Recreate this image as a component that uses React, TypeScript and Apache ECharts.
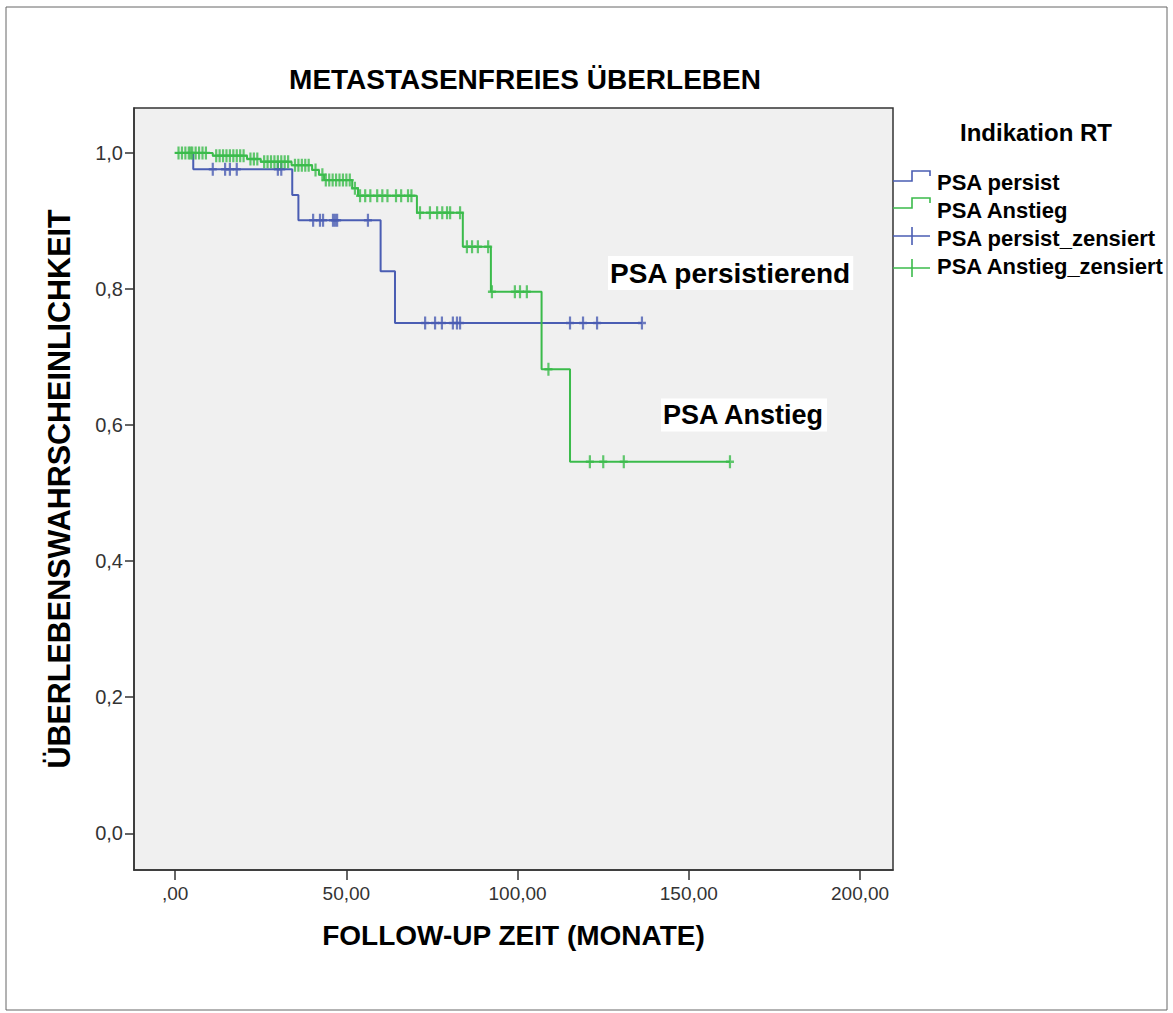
import React, { useEffect, useRef } from "react";
import * as echarts from "echarts";

// ---- Data (Kaplan-Meier, months / survival) ----
const xTickValues = [0, 50, 100, 150, 200];
const yTickValues = [0, 0.2, 0.4, 0.6, 0.8, 1.0];

// PSA persist (blue)
const blueEventTimes = [5.3, 34.2, 36.0, 60.0, 64.2];
const blueEventSurv = [0.976, 0.938, 0.901, 0.826, 0.75];
const blueEndTime = 136.3;
const blueCensorTimes = [
  11, 14.6, 16, 18, 30, 31, 40.3, 42.3, 43.2, 46.1, 46.7, 47.3, 56.3, 73, 75.9,
  77.9, 81.1, 82.3, 83.2, 115.3, 119.1, 123.2, 136.3,
];

// PSA Anstieg (green)
const greenEventTimes = [11, 21, 25, 34, 40, 42, 43.5, 51.7, 53.4, 70.6, 84, 92.2, 107, 115.3];
const greenEventSurv = [0.996, 0.991, 0.987, 0.982, 0.975, 0.968, 0.96, 0.948, 0.937, 0.912, 0.862, 0.796, 0.682, 0.546];
const greenEndTime = 162;
const greenCensorTimes = [
  1, 2, 3, 4, 4.5, 5, 6, 7, 8, 9, 12, 13, 14, 15, 16, 17, 18, 19, 20, 22, 23, 24,
  26, 27, 28, 29, 30, 31, 32, 33, 35, 36, 37, 38, 39, 41, 43, 44, 45, 46, 47, 48,
  49, 50, 51, 52.5, 54, 55.5, 57, 59, 60.5, 62, 64.5, 66, 68, 69, 71.5, 74.4,
  76.5, 78, 79.4, 80.3, 83.2, 85.2, 86.7, 88.4, 91.4, 92.5, 99.2, 100.7, 102.7,
  109, 121.1, 125, 131, 162,
];

const BLUE = "#4a5db3";
const GREEN = "#3bbb4b";
const FONT = "Liberation Sans, Arial, sans-serif";

function stepLine(times: number[], surv: number[], end: number) {
  const pts: number[][] = [[0, 1]];
  times.forEach((t, i) => pts.push([t, surv[i]]));
  pts.push([end, surv[surv.length - 1]]);
  return pts;
}

function survAt(times: number[], surv: number[], t: number) {
  let s = 1;
  for (let i = 0; i < times.length; i++) if (times[i] <= t) s = surv[i];
  return s;
}

function censorPoints(ct: number[], times: number[], surv: number[]) {
  return ct.map((t) => [t, survAt(times, surv, t)]);
}

const PLUS =
  "path://M-1.1,-6.5 H1.1 V-1.2 H4 V1.2 H1.1 V6.5 H-1.1 V1.2 H-4 V-1.2 H-1.1 Z";

const fmtX = (v: number) => (v === 0 ? ",00" : v.toFixed(2).replace(".", ","));
const fmtY = (v: number) => v.toFixed(1).replace(".", ",");

export default function App() {
  const ref = useRef<HTMLDivElement>(null);
  useEffect(() => {
    const chart = echarts.init(ref.current!, null, { renderer: "svg" });
    const legendText = (text: string, y: number) => ({
      type: "text",
      x: 937,
      y,
      style: {
        text,
        font: `bold 22px ${FONT}`,
        fill: "#000",
        align: "left",
        verticalAlign: "middle",
      },
    });
    chart.setOption({
      animation: false,
      backgroundColor: "#fff",
      title: {
        text: "METASTASENFREIES ÜBERLEBEN",
        left: 525,
        top: 65,
        padding: 0,
        textAlign: "center",
        textStyle: { fontFamily: FONT, fontWeight: "bold", fontSize: 28, color: "#000" },
      },
      grid: {
        left: 134,
        top: 108,
        width: 759,
        height: 762,
        show: true,
        backgroundColor: "#f0f0f0",
        borderColor: "#333",
        borderWidth: 1.5,
        containLabel: false,
      },
      xAxis: {
        type: "value",
        min: -12,
        max: 209.6,
        splitLine: { show: false },
        axisLine: { show: true, onZero: false, lineStyle: { color: "#333", width: 1.5 } },
        axisTick: {
          show: true,
          length: 10,
          customValues: xTickValues,
          lineStyle: { color: "#333", width: 1.5 },
        },
        axisLabel: {
          customValues: xTickValues,
          formatter: fmtX,
          fontFamily: FONT,
          fontSize: 19,
          color: "#333",
          margin: 14,
        },
        name: "FOLLOW-UP ZEIT (MONATE)",
        nameLocation: "middle",
        nameGap: 51,
        nameTextStyle: { fontFamily: FONT, fontWeight: "bold", fontSize: 28, color: "#000" },
      },
      yAxis: {
        type: "value",
        min: -0.054,
        max: 1.066,
        splitLine: { show: false },
        axisLine: { show: true, onZero: false, lineStyle: { color: "#333", width: 1.5 } },
        axisTick: {
          show: true,
          length: 9,
          customValues: yTickValues,
          lineStyle: { color: "#333", width: 1.5 },
        },
        axisLabel: {
          customValues: yTickValues,
          formatter: fmtY,
          fontFamily: FONT,
          fontSize: 20,
          color: "#333",
          margin: 11,
        },
        name: "ÜBERLEBENSWAHRSCHEINLICHKEIT",
        nameLocation: "middle",
        nameRotate: 90,
        nameGap: 60,
        nameTextStyle: { fontFamily: FONT, fontWeight: "bold", fontSize: 30.5, color: "#000" },
      },
      series: [
        {
          name: "PSA persist",
          type: "line",
          step: "end",
          data: stepLine(blueEventTimes, blueEventSurv, blueEndTime),
          showSymbol: false,
          lineStyle: { color: BLUE, width: 2 },
          itemStyle: { color: BLUE },
          z: 3,
        },
        {
          name: "PSA Anstieg",
          type: "line",
          step: "end",
          data: stepLine(greenEventTimes, greenEventSurv, greenEndTime),
          showSymbol: false,
          lineStyle: { color: GREEN, width: 2 },
          itemStyle: { color: GREEN },
          z: 3,
        },
        {
          name: "PSA persist_zensiert",
          type: "scatter",
          data: censorPoints(blueCensorTimes, blueEventTimes, blueEventSurv),
          symbol: PLUS,
          symbolSize: [8, 13],
          itemStyle: { color: BLUE },
          z: 4,
        },
        {
          name: "PSA Anstieg_zensiert",
          type: "scatter",
          data: censorPoints(greenCensorTimes, greenEventTimes, greenEventSurv),
          symbol: PLUS,
          symbolSize: [8, 13],
          itemStyle: { color: GREEN },
          z: 4,
        },
      ],
      graphic: [
        {
          type: "rect",
          shape: { x: 6, y: 7, width: 1161, height: 1003 },
          style: { fill: "none", stroke: "#666", lineWidth: 1 },
          silent: true,
          z: -10,
        },
        {
          type: "text",
          x: 608,
          y: 273,
          style: {
            text: "PSA persistierend",
            font: `bold 28px ${FONT}`,
            fill: "#000",
            align: "left",
            verticalAlign: "middle",
            backgroundColor: "#fff",
            padding: [3, 2, 3, 2],
          },
          z: 10,
        },
        {
          type: "text",
          x: 661,
          y: 415,
          style: {
            text: "PSA Anstieg",
            font: `bold 27px ${FONT}`,
            fill: "#000",
            align: "left",
            verticalAlign: "middle",
            backgroundColor: "#fff",
            padding: [3, 2, 3, 2],
          },
          z: 10,
        },
        {
          type: "text",
          x: 1036,
          y: 132,
          style: {
            text: "Indikation RT",
            font: `bold 24px ${FONT}`,
            fill: "#000",
            align: "center",
            verticalAlign: "middle",
          },
        },
        {
          type: "polyline",
          shape: { points: [[893, 181], [912, 181], [912, 171], [930, 171], [930, 176]] },
          style: { stroke: BLUE, lineWidth: 1.6, fill: "none" },
        },
        {
          type: "polyline",
          shape: { points: [[893, 208], [912, 208], [912, 198], [930, 198], [930, 203]] },
          style: { stroke: GREEN, lineWidth: 1.6, fill: "none" },
        },
        {
          type: "line",
          shape: { x1: 893, y1: 236, x2: 930, y2: 236 },
          style: { stroke: BLUE, lineWidth: 1.6 },
        },
        {
          type: "line",
          shape: { x1: 912, y1: 227, x2: 912, y2: 245 },
          style: { stroke: BLUE, lineWidth: 1.6 },
        },
        {
          type: "line",
          shape: { x1: 893, y1: 268, x2: 930, y2: 268 },
          style: { stroke: GREEN, lineWidth: 1.6 },
        },
        {
          type: "line",
          shape: { x1: 912, y1: 259, x2: 912, y2: 277 },
          style: { stroke: GREEN, lineWidth: 1.6 },
        },
        legendText("PSA persist", 182),
        legendText("PSA Anstieg", 210),
        legendText("PSA persist_zensiert", 238),
        legendText("PSA Anstieg_zensiert", 266),
      ],
    });
    return () => chart.dispose();
  }, []);
  return (
    <div
      ref={ref}
      style={{ position: "fixed", left: 0, top: 0, width: 1173, height: 1013, background: "#fff" }}
    />
  );
}
